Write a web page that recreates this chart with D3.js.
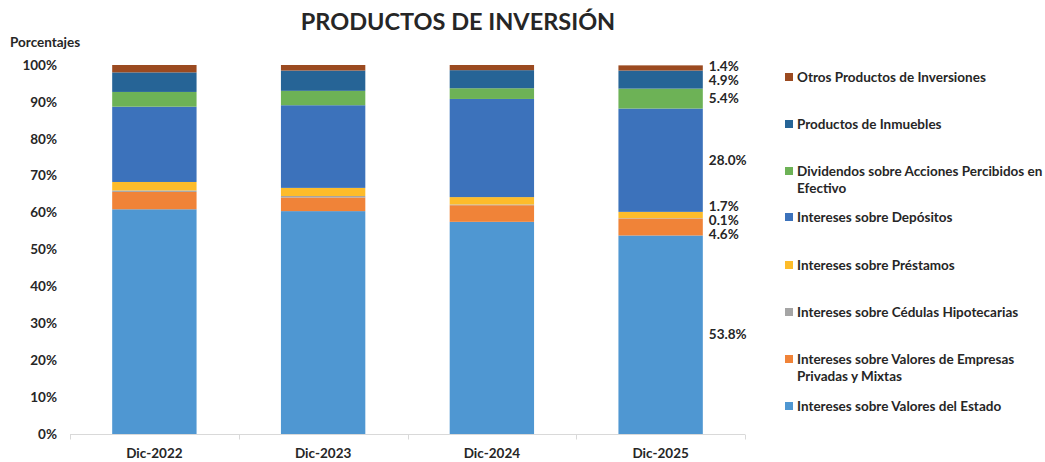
<!DOCTYPE html>
<html>
<head>
<meta charset="utf-8">
<script src="https://cdn.jsdelivr.net/npm/d3@7"></script>
<style>
  body { margin: 0; background: #fff; }
  text { font-family: Lato, "Open Sans", sans-serif; font-weight: bold; fill: #262626; }
</style>
</head>
<body>
<div id="chart"></div>
<script>
// categories and series (bottom to top of each bar)
var years = ["Dic-2022", "Dic-2023", "Dic-2024", "Dic-2025"];
var seriesNames = [
  "Intereses sobre Valores del Estado",
  "Intereses sobre Valores de Empresas Privadas y Mixtas",
  "Intereses sobre Cédulas Hipotecarias",
  "Intereses sobre Préstamos",
  "Intereses sobre Depósitos",
  "Dividendos sobre Acciones Percibidos en Efectivo",
  "Productos de Inmuebles",
  "Otros Productos de Inversiones"
];
var seriesColors = ["#4f97d2", "#f08338", "#a5a5a5", "#fdbc2a", "#3c72bb", "#6db256", "#266496", "#9b4a20"];

// percentage values per series, one entry per year
var estado     = [60.9, 60.4, 57.5, 53.8];
var empresas   = [4.7, 3.7, 4.5, 4.6];
var cedulas    = [0.4, 0.4, 0.2, 0.1];
var prestamos  = [2.3, 2.2, 2.0, 1.7];
var depositos  = [20.4, 22.4, 26.6, 28.0];
var dividendos = [4.0, 3.9, 2.9, 5.4];
var inmuebles  = [5.3, 5.5, 4.9, 4.9];
var otros      = [2.0, 1.5, 1.4, 1.4];
var yTicks = [0, 10, 20, 30, 40, 50, 60, 70, 80, 90, 100];

var allSeries = [estado, empresas, cedulas, prestamos, depositos, dividendos, inmuebles, otros];

var svgWidth = 1045;
var svgHeight = 462;
var plot = { left: 70, right: 745, top: 65, bottom: 434 };
var fs = "13.5px";

var svg = d3.select("#chart")
  .append("svg")
  .attr("width", svgWidth)
  .attr("height", svgHeight);

// build table for stacking
var table = years.map(function(y, i) {
  var row = { year: y };
  seriesNames.forEach(function(s, j) { row[s] = allSeries[j][i]; });
  return row;
});
var stacked = d3.stack().keys(seriesNames)(table);

var x = d3.scaleBand()
  .domain(years)
  .range([plot.left, plot.right])
  .paddingInner(0.5)
  .paddingOuter(0.25);

var y = d3.scaleLinear()
  .domain([0, 100])
  .range([plot.bottom, plot.top]);

// title
svg.append("text")
  .attr("x", 458)
  .attr("y", 30)
  .attr("text-anchor", "middle")
  .style("font-size", "23.5px")
  .text("PRODUCTOS DE INVERSIÓN");

svg.append("text")
  .attr("x", 10)
  .attr("y", 47)
  .style("font-size", fs)
  .text("Porcentajes");

// y tick labels
svg.append("g").selectAll("text")
  .data(yTicks)
  .enter()
  .append("text")
  .attr("x", 57)
  .attr("y", d => y(d))
  .attr("dy", "0.35em")
  .attr("text-anchor", "end")
  .style("font-size", fs)
  .text(d => d + "%");

// bars
var layers = svg.append("g").selectAll("g")
  .data(stacked)
  .enter()
  .append("g")
  .attr("fill", (d, i) => seriesColors[i]);

layers.selectAll("rect")
  .data(d => d)
  .enter()
  .append("rect")
  .attr("x", d => x(d.data.year))
  .attr("width", x.bandwidth())
  .attr("y", d => y(d[1]))
  .attr("height", d => y(d[0]) - y(d[1]));

// x axis line with ticks at category edges
var axisY = plot.bottom + 0.5;
svg.append("line")
  .attr("x1", plot.left).attr("x2", plot.right)
  .attr("y1", axisY).attr("y2", axisY)
  .attr("stroke", "#d9d9d9");

var edges = years.map((d, i) => plot.left + i * x.step() * (plot.right - plot.left) / (x.step() * years.length));
edges.push(plot.right);
svg.append("g").selectAll("line")
  .data(edges)
  .enter()
  .append("line")
  .attr("x1", d => Math.round(d) + 0.5).attr("x2", d => Math.round(d) + 0.5)
  .attr("y1", axisY).attr("y2", axisY + 5)
  .attr("stroke", "#d9d9d9");

svg.append("g").selectAll("text")
  .data(years)
  .enter()
  .append("text")
  .attr("x", d => x(d) + x.bandwidth() / 2)
  .attr("y", 458)
  .attr("text-anchor", "middle")
  .style("font-size", fs)
  .text(d => d);

// data labels for the last year, spread apart where they collide
var last = years.length - 1;
var labels = stacked.map(function(s, i) {
  var d = s[last];
  return { value: allSeries[i][last], pos: (y(d[0]) + y(d[1])) / 2 };
});
labels.sort((a, b) => a.pos - b.pos);
var gap = 14;
var clusters = labels.map(l => ({ items: [l], center: l.pos }));
var merged = true;
while (merged) {
  merged = false;
  for (var i = 0; i < clusters.length - 1; i++) {
    var a = clusters[i], b = clusters[i + 1];
    var aBottom = a.center + (a.items.length - 1) * gap / 2;
    var bTop = b.center - (b.items.length - 1) * gap / 2;
    if (bTop - aBottom < gap) {
      var items = a.items.concat(b.items);
      var center = d3.mean(items, d => d.pos);
      clusters.splice(i, 2, { items: items, center: center });
      merged = true;
      break;
    }
  }
}
clusters.forEach(function(c) {
  c.items.forEach(function(l, k) {
    l.y = c.center + (k - (c.items.length - 1) / 2) * gap;
  });
});

svg.append("g").selectAll("text")
  .data(labels)
  .enter()
  .append("text")
  .attr("x", x(years[last]) + x.bandwidth() + 6)
  .attr("y", d => d.y)
  .attr("dy", "0.35em")
  .style("font-size", fs)
  .text(d => d.value.toFixed(1) + "%");

// legend, top entry first
var legendOrder = seriesNames.map((s, i) => i).reverse();
var legendTops = [77, 124, 171, 217, 265, 312, 359, 406];
var legend = svg.append("g").selectAll("g")
  .data(legendOrder)
  .enter()
  .append("g")
  .attr("transform", (d, k) => `translate(785, ${legendTops[k]})`);

legend.append("rect")
  .attr("x", 0).attr("y", -4)
  .attr("width", 8).attr("height", 8)
  .attr("fill", d => seriesColors[d]);

var splits = {
  "Dividendos sobre Acciones Percibidos en Efectivo": ["Dividendos sobre Acciones Percibidos en", "Efectivo"],
  "Intereses sobre Valores de Empresas Privadas y Mixtas": ["Intereses sobre Valores de Empresas", "Privadas y Mixtas"]
};
legend.append("text")
  .attr("x", 12)
  .attr("y", 0)
  .style("font-size", fs)
  .each(function(d) {
    var lines = splits[seriesNames[d]] || [seriesNames[d]];
    d3.select(this).selectAll("tspan")
      .data(lines)
      .enter()
      .append("tspan")
      .attr("x", 12)
      .attr("dy", (l, k) => k === 0 ? "0.35em" : "17px")
      .text(l => l);
  });
</script>
</body>
</html>
